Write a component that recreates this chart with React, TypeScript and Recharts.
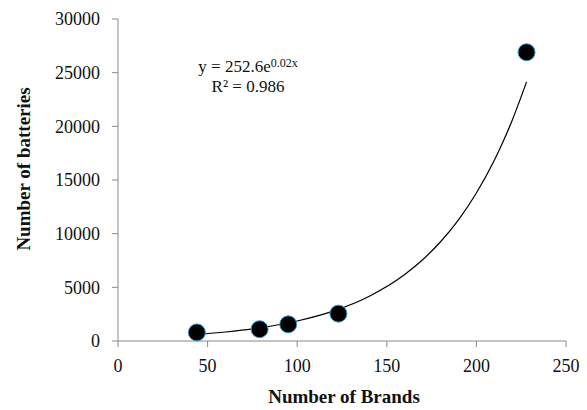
import { ComposedChart, Scatter, Line, XAxis, YAxis } from 'recharts';

// observed points (brands, batteries)
const brands = [44, 79, 95, 123, 228];
const batteries = [800, 1100, 1550, 2550, 26900];

// exponential trendline, values
const trendX = [44, 60, 80, 100, 120, 140, 160, 170, 180, 190, 200, 210, 215, 220, 228];
const trendY = [609, 839, 1251, 1866, 2784, 4154, 6197, 7568, 9245, 11292, 13792, 16845, 18617, 20575, 24143];

const xTicks = [0, 50, 100, 150, 200, 250];
const yTicks = [0, 5000, 10000, 15000, 20000, 25000, 30000];

const points = brands.map((x, i) => ({ x, y: batteries[i] }));
const trend = trendX.map((x, i) => ({ x, y: trendY[i] }));

const font = '"Liberation Serif", "Times New Roman", serif';
const axisColor = '#8a8a8a';

const Dot = (props: any) => {
  const { cx, cy } = props;
  return <circle cx={cx} cy={cy} r={8.5} fill="#000" stroke="#2a9fd6" strokeWidth={1} />;
};

const App = () => {
  return (
    <div style={{ position: 'fixed', left: 0, top: 0, width: 587, height: 410, background: '#fff', fontFamily: font }}>
      <ComposedChart width={587} height={410} margin={{ top: 19, right: 21, left: 0, bottom: 0 }}>
        <XAxis
          type="number"
          dataKey="x"
          domain={[0, 250]}
          ticks={xTicks}
          height={69}
          stroke={axisColor}
          tickSize={6}
          tickMargin={12}
          tick={{ fill: '#111', fontSize: 18, fontFamily: font }}
          allowDataOverflow
        />
        <YAxis
          type="number"
          domain={[0, 30000]}
          ticks={yTicks}
          width={118}
          stroke={axisColor}
          tickSize={6}
          tickMargin={12}
          tick={{ fill: '#111', fontSize: 18, fontFamily: font }}
        />
        <Line
          data={trend}
          dataKey="y"
          type="monotone"
          stroke="#000"
          strokeWidth={1.2}
          dot={false}
          activeDot={false}
          isAnimationActive={false}
        />
        <Scatter data={points} dataKey="y" shape={<Dot />} isAnimationActive={false} />
      </ComposedChart>
      <div style={{ position: 'absolute', left: 178, top: 57, width: 140, textAlign: 'center', fontSize: 17, lineHeight: '20px', color: '#111' }}>
        <div>y = 252.6e<sup style={{ fontSize: 12, verticalAlign: 'top', lineHeight: '12px' }}>0.02x</sup></div>
        <div>R² = 0.986</div>
      </div>
      <div style={{ position: 'absolute', left: 0, top: 386, width: 587, paddingLeft: 100, boxSizing: 'border-box', textAlign: 'center', fontSize: 19, fontWeight: 'bold', color: '#111' }}>
        <span style={{ position: 'absolute', left: 344, transform: 'translateX(-50%)', whiteSpace: 'nowrap' }}>Number of Brands</span>
      </div>
      <div style={{ position: 'absolute', left: 24, top: 169, transform: 'translate(-50%, -50%) rotate(-90deg)', whiteSpace: 'nowrap', fontSize: 19, fontWeight: 'bold', color: '#111' }}>
        Number of batteries
      </div>
    </div>
  );
};

export default App;
